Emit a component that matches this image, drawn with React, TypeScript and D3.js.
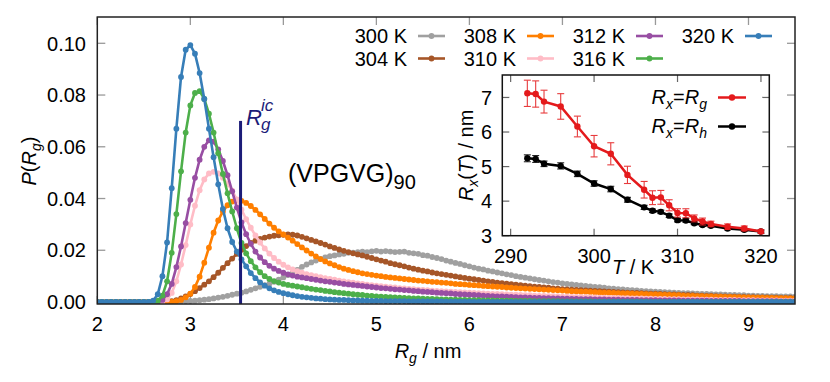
import React from 'react';
import * as d3 from 'd3';

const W = 830;
const H = 382;
const FONT = '"Liberation Sans", Arial, Helvetica, sans-serif';
const FS = 20;

// main panel frame (px)
const MAIN = { left: 97.3, right: 795, top: 17, bottom: 304 };
// inset frame (px)
const INS = { left: 502.3, right: 769.3, top: 75, bottom: 235.7 };

const RG_MIN = 2;
const RG_MAX = 9.5;
const RG_STEP = 0.05;
const RG_IC = 3.54;

const X_TICKS = [2, 3, 4, 5, 6, 7, 8, 9];
const Y_TICKS = [0, 0.02, 0.04, 0.06, 0.08, 0.1];
const IX_TICKS = [290, 300, 310, 320];
const IY_TICKS = [3, 4, 5, 6, 7];

const TEMPS = ['300 K', '304 K', '308 K', '310 K', '312 K', '316 K', '320 K'];
const COLORS = ['#a0a0a0', '#a65628', '#ff7f00', '#ffbcc6', '#984ea3', '#4daf4a', '#377eb8'];

// P(Rg) in units of 1e-4, one value per 0.05 nm bin from START; zero elsewhere
const START = [2.80, 2.75, 2.80, 2.70, 2.65, 2.60, 2.55];

const P300 = [
  0, 1, 2, 3, 4, 5, 7, 9, 11, 14, 17, 20, 24, 28, 32, 36, 41, 47, 53, 59,
  65, 71, 78, 86, 95, 104, 114, 124, 136, 145, 153, 160, 167, 172, 177, 180, 184, 186, 190, 191,
  193, 195, 193, 196, 198, 195, 197, 195, 193, 194, 195, 190, 188, 186, 181, 179, 174, 170, 166, 160,
  156, 151, 147, 142, 138, 133, 129, 126, 121, 118, 114, 111, 107, 104, 100, 97, 94, 91, 88, 85,
  83, 80, 77, 75, 72, 70, 68, 66, 64, 62, 60, 58, 57, 55, 53, 52, 50, 49, 47, 46,
  45, 43, 42, 41, 40, 39, 38, 37, 36, 35, 34, 34, 33, 32, 31, 31, 30, 29, 29, 28,
  27, 27, 26, 26, 25, 25, 24, 24, 23, 23, 23, 22, 22, 22, 21,
];
const P304 = [
  0, 3, 7, 14, 22, 31, 42, 54, 67, 80, 96, 113, 132, 150, 168, 186, 202, 216, 228, 237,
  244, 249, 253, 256, 258, 260, 261, 260, 257, 252, 246, 240, 234, 228, 222, 215, 209, 203, 198, 193,
  188, 184, 180, 175, 170, 165, 160, 156, 150, 146, 142, 138, 133, 129, 125, 121, 118, 114, 111, 108,
  105, 102, 99, 96, 93, 90, 88, 85, 83, 80, 78, 75, 73, 71, 69, 67, 65, 63, 61, 59,
  58, 56, 55, 53, 52, 50, 49, 48, 47, 46, 45, 44, 43, 42, 41, 40, 39, 38, 37, 36,
  35, 35, 34, 33, 32, 32, 31, 30, 29, 29, 28, 27, 27, 26, 25, 25, 24, 24, 23, 22,
  22, 21, 21, 20, 20, 19, 19, 18, 18, 18, 17, 17, 16, 16, 16, 15,
];
const P308 = [
  0, 3, 8, 18, 32, 58, 98, 152, 210, 268, 315, 350, 374, 388, 394, 391, 383, 371, 356, 339,
  321, 303, 287, 273, 261, 249, 237, 224, 211, 199, 187, 176, 166, 157, 149, 142, 135, 129, 124, 119,
  115, 111, 108, 105, 102, 100, 97, 95, 93, 91, 89, 87, 85, 83, 82, 80, 78, 77, 75, 74,
  72, 70, 69, 68, 66, 65, 64, 62, 61, 60, 59, 58, 56, 55, 54, 53, 52, 51, 50, 49,
  48, 47, 46, 45, 44, 43, 42, 41, 40, 40, 39, 38, 37, 36, 36, 35, 34, 33, 33, 32,
  31, 31, 30, 29, 29, 28, 27, 27, 26, 26, 25, 24, 24, 23, 23, 22, 22, 21, 21, 20,
  20, 19, 19, 18, 18, 17, 17, 17, 16, 16, 15, 15, 15, 14, 14,
];
const P310 = [
  0, 10, 35, 80, 145, 220, 300, 372, 432, 474, 497, 503, 497, 480, 457, 430, 397, 357, 320, 287,
  257, 230, 207, 187, 170, 156, 144, 134, 126, 119, 113, 108, 104, 100, 96, 92, 89, 86, 83, 80,
  77, 75, 72, 70, 67, 65, 63, 61, 59, 57, 56, 54, 53, 51, 50, 48, 47, 46, 44, 43,
  42, 41, 40, 39, 38, 37, 36, 35, 34, 33, 32, 31, 31, 30, 29, 28, 28, 27, 26, 26,
  25, 24, 24, 23, 23, 22, 21, 21, 20, 20, 19, 19, 18, 18, 17, 17, 16, 16, 16, 15,
  15, 14, 14, 14, 13, 13, 12, 12, 12, 11, 11, 11, 10, 10, 10, 10, 9, 9, 9, 8,
  8, 8, 8, 8, 7, 7, 7, 7, 6, 6, 6, 6, 6, 5, 5, 5, 5,
];
const P312 = [
  0, 8, 30, 70, 135, 215, 305, 395, 480, 550, 600, 625, 620, 590, 545, 490, 428, 365, 308, 262,
  225, 195, 172, 154, 140, 129, 120, 113, 107, 102, 98, 95, 92, 89, 86, 83, 80, 78, 75, 73,
  70, 68, 66, 64, 62, 60, 58, 56, 54, 53, 51, 49, 48, 46, 45, 43, 42, 40, 39, 38,
  36, 35, 34, 33, 31, 30, 29, 28, 27, 26, 25, 24, 23, 22, 22, 21, 20, 19, 18, 18,
  17, 16, 16, 15, 15, 14, 14, 13, 13, 12, 12, 11, 11, 11, 10, 10, 10, 9, 9, 9,
  8, 8, 8, 8, 7, 7, 7, 7, 6, 6, 6, 6, 6, 5, 5, 5, 5, 5, 5, 4,
  4, 4, 4, 4, 4, 4, 3, 3, 3, 3, 3, 3, 3, 3, 2, 2, 2, 2,
];
const P316 = [
  0, 5, 25, 80, 190, 340, 505, 655, 760, 808, 815, 785, 728, 655, 575, 495, 420, 350, 285, 228,
  188, 158, 134, 115, 100, 89, 81, 75, 70, 66, 63, 60, 57, 54, 51, 48, 46, 43, 41, 38,
  36, 34, 32, 30, 28, 27, 25, 24, 22, 21, 20, 19, 18, 17, 16, 15, 14, 14, 13, 12,
  12, 11, 10, 10, 9, 9, 8, 8, 7, 7, 7, 6, 6, 6, 5, 5, 5, 5, 4, 4,
  4, 4, 3, 3, 3, 3, 3, 3, 2, 2, 2, 2, 2, 2, 2, 1, 1, 1, 1, 1,
  1, 1, 1, 1, 1, 1, 1,
];
const P320 = [
  0, 5, 30, 100, 230, 440, 670, 870, 975, 993, 960, 885, 785, 670, 560, 455, 360, 285, 232, 195,
  165, 138, 112, 92, 76, 63, 53, 45, 39, 34, 30, 26, 23, 20, 18, 16, 14, 13, 11, 10,
  9, 8, 8, 7, 6, 6, 5, 5, 4, 4, 4, 3, 3, 3, 3, 3, 2, 2, 2, 2,
  2, 2, 2, 2, 1, 1, 1, 1, 1, 1,
];
const SERIES_VALUES = [P300, P304, P308, P310, P312, P316, P320];

// inset: Rx(T) / nm
const T_INSET = [292, 293, 294, 296, 298, 300, 302, 304, 306, 307, 308, 309, 310, 311, 312, 313, 314, 316, 318, 320];
const RG_T = [7.12, 7.10, 6.88, 6.74, 6.16, 5.59, 5.37, 4.76, 4.33, 4.10, 4.11, 3.88, 3.66, 3.65, 3.50, 3.41, 3.34, 3.26, 3.21, 3.12];
const RG_T_ERR = [0.38, 0.38, 0.33, 0.37, 0.30, 0.31, 0.32, 0.25, 0.24, 0.20, 0.20, 0.16, 0.12, 0.13, 0.10, 0.10, 0.08, 0.08, 0.07, 0.05];
const RH_T = [5.24, 5.22, 5.08, 5.02, 4.79, 4.51, 4.35, 4.04, 3.82, 3.72, 3.69, 3.58, 3.45, 3.44, 3.36, 3.31, 3.29, 3.21, 3.17, 3.12];
const RH_T_ERR = [0.10, 0.10, 0.08, 0.09, 0.08, 0.08, 0.08, 0.07, 0.06, 0.05, 0.05, 0.05, 0.05, 0.05, 0.04, 0.04, 0.04, 0.04, 0.04, 0.04];

const RED = '#e41a1c';
const NAVY = '#1c1c78';

function binned(start: number, vals: number[]) {
  const n = Math.round((RG_MAX - RG_MIN) / RG_STEP);
  const off = Math.round((start - RG_MIN) / RG_STEP);
  const pts: [number, number][] = [];
  for (let i = 0; i <= n; i++) {
    const v = vals[i - off];
    pts.push([RG_MIN + i * RG_STEP, (v == null ? 0 : v) * 1e-4]);
  }
  return pts;
}

const x = d3.scaleLinear().domain([RG_MIN, RG_MAX]).range([MAIN.left, MAIN.right]);
const y = d3.scaleLinear().domain([0, 0.1]).range([302, 43.3]);
const xi = d3.scaleLinear().domain([289, 321]).range([INS.left, INS.right]);
const yi = d3.scaleLinear().domain([3, 7.65]).range([INS.bottom, INS.top]);

const line = d3.line<[number, number]>().x(d => x(d[0])).y(d => y(d[1]));
const iline = d3.line<[number, number]>().x(d => xi(d[0])).y(d => yi(d[1]));

function Inset() {
  const sets = [
    { v: RH_T, e: RH_T_ERR, c: '#000' },
    { v: RG_T, e: RG_T_ERR, c: RED },
  ];
  const legend = [
    { sub: 'g', c: RED, y: 104 },
    { sub: 'h', c: '#000', y: 133 },
  ];
  return (
    <g>
      <rect x={INS.left} y={INS.top} width={INS.right - INS.left} height={INS.bottom - INS.top}
        fill="#fff" />
      {IX_TICKS.map(t => (
        <g key={'ix' + t}>
          <line x1={xi(t)} x2={xi(t)} y1={INS.bottom} y2={INS.bottom - 7} stroke="#666" strokeWidth={1.2} />
          <line x1={xi(t)} x2={xi(t)} y1={INS.top} y2={INS.top + 7} stroke="#666" strokeWidth={1.2} />
          <text x={xi(t)} y={263} textAnchor="middle" fontSize={FS}>{t}</text>
        </g>
      ))}
      {IY_TICKS.map(t => (
        <g key={'iy' + t}>
          <line x1={INS.left} x2={INS.left + 7} y1={yi(t)} y2={yi(t)} stroke="#666" strokeWidth={1.2} />
          <line x1={INS.right} x2={INS.right - 7} y1={yi(t)} y2={yi(t)} stroke="#666" strokeWidth={1.2} />
          <text x={492} y={yi(t)} dy="0.36em" textAnchor="end" fontSize={FS}>{t}</text>
        </g>
      ))}
      {sets.map((s, k) => {
        const pts = T_INSET.map((t, i) => [t, s.v[i]] as [number, number]);
        return (
          <g key={'set' + k}>
            {pts.map((p, i) => (
              <g key={i} stroke={s.c} strokeWidth={1.1} opacity={0.85}>
                <line x1={xi(p[0])} x2={xi(p[0])} y1={yi(p[1] - s.e[i])} y2={yi(p[1] + s.e[i])} />
                <line x1={xi(p[0]) - 3.5} x2={xi(p[0]) + 3.5} y1={yi(p[1] - s.e[i])} y2={yi(p[1] - s.e[i])} />
                <line x1={xi(p[0]) - 3.5} x2={xi(p[0]) + 3.5} y1={yi(p[1] + s.e[i])} y2={yi(p[1] + s.e[i])} />
              </g>
            ))}
            <path d={iline(pts) || ''} fill="none" stroke={s.c} strokeWidth={2.5} />
            {pts.map((p, i) => (
              <circle key={'c' + i} cx={xi(p[0])} cy={yi(p[1])} r={3.2} fill={s.c} />
            ))}
          </g>
        );
      })}
      <rect x={INS.left} y={INS.top} width={INS.right - INS.left} height={INS.bottom - INS.top}
        fill="none" stroke="#111" strokeWidth={1.5} />
      {legend.map(l => (
        <g key={l.sub}>
          <text x={707} y={l.y} textAnchor="end" fontSize={FS}>
            <tspan fontStyle="italic">R</tspan>
            <tspan dy={5} fontSize={14} fontStyle="italic">x</tspan>
            <tspan dy={-5}>=</tspan>
            <tspan fontStyle="italic">R</tspan>
            <tspan dy={5} fontSize={14} fontStyle="italic">{l.sub}</tspan>
          </text>
          <line x1={718} x2={746} y1={l.y - 6.5} y2={l.y - 6.5} stroke={l.c} strokeWidth={2.5} />
          <circle cx={732} cy={l.y - 6.5} r={3.2} fill={l.c} />
        </g>
      ))}
      <text x={633} y={274} textAnchor="middle" fontSize={FS}>
        <tspan fontStyle="italic">T</tspan> / K
      </text>
      <text transform={`translate(473,${(INS.top + INS.bottom) / 2}) rotate(-90)`} textAnchor="middle" fontSize={FS}>
        <tspan fontStyle="italic">R</tspan>
        <tspan dy={5} fontSize={14} fontStyle="italic">x</tspan>
        <tspan dy={-5}>(</tspan>
        <tspan fontStyle="italic">T</tspan>
        <tspan>) / nm</tspan>
      </text>
    </g>
  );
}

export default function App() {
  const series = SERIES_VALUES.map((vals, k) => ({
    label: TEMPS[k],
    color: COLORS[k],
    pts: binned(START[k], vals),
  }));

  return (
    <div style={{ position: 'absolute', left: 0, top: 0 }}>
      <svg width={W} height={H} viewBox={`0 0 ${W} ${H}`} fontFamily={FONT}
        style={{ display: 'block', background: '#fff' }}>
        <defs>
          <clipPath id="plotclip">
            <rect x={MAIN.left} y={MAIN.top} width={MAIN.right - MAIN.left} height={MAIN.bottom - MAIN.top} />
          </clipPath>
        </defs>

        {/* ticks */}
        {X_TICKS.map(t => (
          <g key={'xt' + t}>
            <line x1={x(t)} x2={x(t)} y1={MAIN.bottom} y2={MAIN.bottom - 8} stroke="#999" strokeWidth={1.3} />
            <line x1={x(t)} x2={x(t)} y1={MAIN.top} y2={MAIN.top + 8} stroke="#999" strokeWidth={1.3} />
            <text x={x(t)} y={331} textAnchor="middle" fontSize={FS}>{t}</text>
          </g>
        ))}
        {Y_TICKS.map(t => (
          <g key={'yt' + t}>
            <line x1={MAIN.left} x2={MAIN.left + 8} y1={y(t)} y2={y(t)} stroke="#999" strokeWidth={1.3} />
            <line x1={MAIN.right} x2={MAIN.right - 8} y1={y(t)} y2={y(t)} stroke="#999" strokeWidth={1.3} />
            <text x={86} y={y(t)} dy="0.36em" textAnchor="end" fontSize={FS}>{d3.format('.2f')(t)}</text>
          </g>
        ))}

        {/* distributions */}
        <g clipPath="url(#plotclip)">
          {series.map(s => (
            <g key={s.label}>
              <path d={line(s.pts) || ''} fill="none" stroke={s.color} strokeWidth={2.6} strokeLinejoin="round" />
              {s.pts.map((p, i) => (
                <circle key={i} cx={x(p[0])} cy={y(p[1])} r={2.9} fill={s.color} />
              ))}
            </g>
          ))}
        </g>

        {/* Rg^ic marker */}
        <line x1={x(RG_IC)} x2={x(RG_IC)} y1={MAIN.bottom} y2={y(0.07)} stroke={NAVY} strokeWidth={3} />
        <text x={246} y={125} fontSize={22} fill={NAVY} fontStyle="italic">R</text>
        <text x={261} y={111} fontSize={17} fill={NAVY} fontStyle="italic">ic</text>
        <text x={261} y={130} fontSize={17} fill={NAVY} fontStyle="italic">g</text>

        <text x={288} y={182} fontSize={25}>
          (VPGVG)<tspan dy={7} fontSize={20}>90</tspan>
        </text>

        <rect x={MAIN.left} y={MAIN.top} width={MAIN.right - MAIN.left} height={MAIN.bottom - MAIN.top}
          fill="none" stroke="#222" strokeWidth={1.5} />

        {/* legend */}
        {series.map((s, k) => {
          const col = Math.floor(k / 2);
          const row = k % 2;
          const tx = 407 + col * 109;
          const ty = 36 + row * 22.5;
          return (
            <g key={'lg' + k}>
              <text x={tx} y={ty} dy="0.36em" textAnchor="end" fontSize={FS}>{s.label}</text>
              <line x1={tx + 11} x2={tx + 38} y1={ty} y2={ty} stroke={s.color} strokeWidth={2.6} />
              <circle cx={tx + 24.5} cy={ty} r={2.9} fill={s.color} />
            </g>
          );
        })}

        <Inset />

        {/* axis titles */}
        <text x={428} y={358} textAnchor="middle" fontSize={FS}>
          <tspan fontStyle="italic">R</tspan>
          <tspan dy={5} fontSize={14} fontStyle="italic">g</tspan>
          <tspan dy={-5}> / nm</tspan>
        </text>
        <text transform={`translate(36,161) rotate(-90)`} textAnchor="middle" fontSize={FS}>
          <tspan fontStyle="italic">P</tspan>
          <tspan>(</tspan>
          <tspan fontStyle="italic">R</tspan>
          <tspan dy={5} fontSize={14} fontStyle="italic">g</tspan>
          <tspan dy={-5}>)</tspan>
        </text>
      </svg>
    </div>
  );
}
